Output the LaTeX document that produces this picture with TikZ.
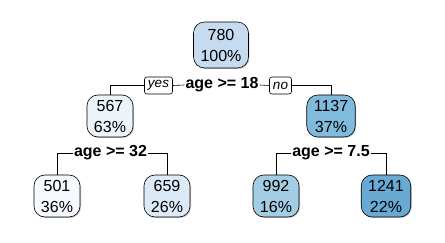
\documentclass[tikz,border=0pt]{standalone}
\usepackage{fontspec}
\setmainfont{Liberation Sans}
\usetikzlibrary{shadows}
\definecolor{c780}{RGB}{198,219,239}
\definecolor{c567}{RGB}{235,243,251}
\definecolor{c1137}{RGB}{128,186,221}
\definecolor{c501}{RGB}{246,250,255}
\definecolor{c659}{RGB}{220,233,246}
\definecolor{c992}{RGB}{163,205,228}
\definecolor{c1241}{RGB}{104,170,212}
\tikzset{
  leaf/.style={draw=black, line width=0.6pt, rounded corners=11pt, align=center,
    inner xsep=7pt, inner ysep=2pt, minimum height=42pt,
    font=\fontsize{16}{21}\selectfont,
    drop shadow={shadow xshift=1pt, shadow yshift=-1pt, fill=black!22, opacity=1}},
  splitlab/.style={font=\fontsize{16}{19}\selectfont\bfseries, inner sep=1pt},
  yn/.style={draw=black, line width=0.6pt, rounded corners=2.5pt, font=\fontsize{13.5}{15}\selectfont\itshape,
    inner xsep=3.5pt, inner ysep=1.5pt, minimum height=17pt, fill=white},
  edge/.style={draw=black, line width=0.6pt}
}
\begin{document}
\begin{tikzpicture}[x=1pt,y=-1pt]
\useasboundingbox (0,0) rectangle (445,243);
\node[leaf, fill=c780, minimum height=46pt] (n780) at (221,45) {780\\100\%};
\node[leaf, fill=c567] (n567) at (110,116) {567\\63\%};
\node[leaf, fill=c1137] (n1137) at (331,116) {1137\\37\%};
\node[leaf, fill=c501] (n501) at (57,196) {501\\36\%};
\node[leaf, fill=c659] (n659) at (167,196) {659\\26\%};
\node[leaf, fill=c992] (n992) at (276,196) {992\\16\%};
\node[leaf, fill=c1241] (n1241) at (386,196) {1241\\22\%};
\node[splitlab] (s1) at (222,85) {age >= 18};
\node[yn] (yes) at (158.5,85.5) {yes};
\node[yn] (no) at (280.5,85.5) {no};
\node[splitlab] (s2) at (110.5,153) {age >= 32};
\node[splitlab] (s3) at (331,153) {age >= 7.5};
\draw[edge] (yes.west) -| (n567.north);
\draw[edge] (yes.east) -- (s1.west);
\draw[edge] (s1.east) -- (no.west);
\draw[edge] (no.east) -| (n1137.north);
\draw[edge] (s2.west) -| (n501.north);
\draw[edge] (s2.east) -| (n659.north);
\draw[edge] (s3.west) -| (n992.north);
\draw[edge] (s3.east) -| (n1241.north);
\end{tikzpicture}
\end{document}
